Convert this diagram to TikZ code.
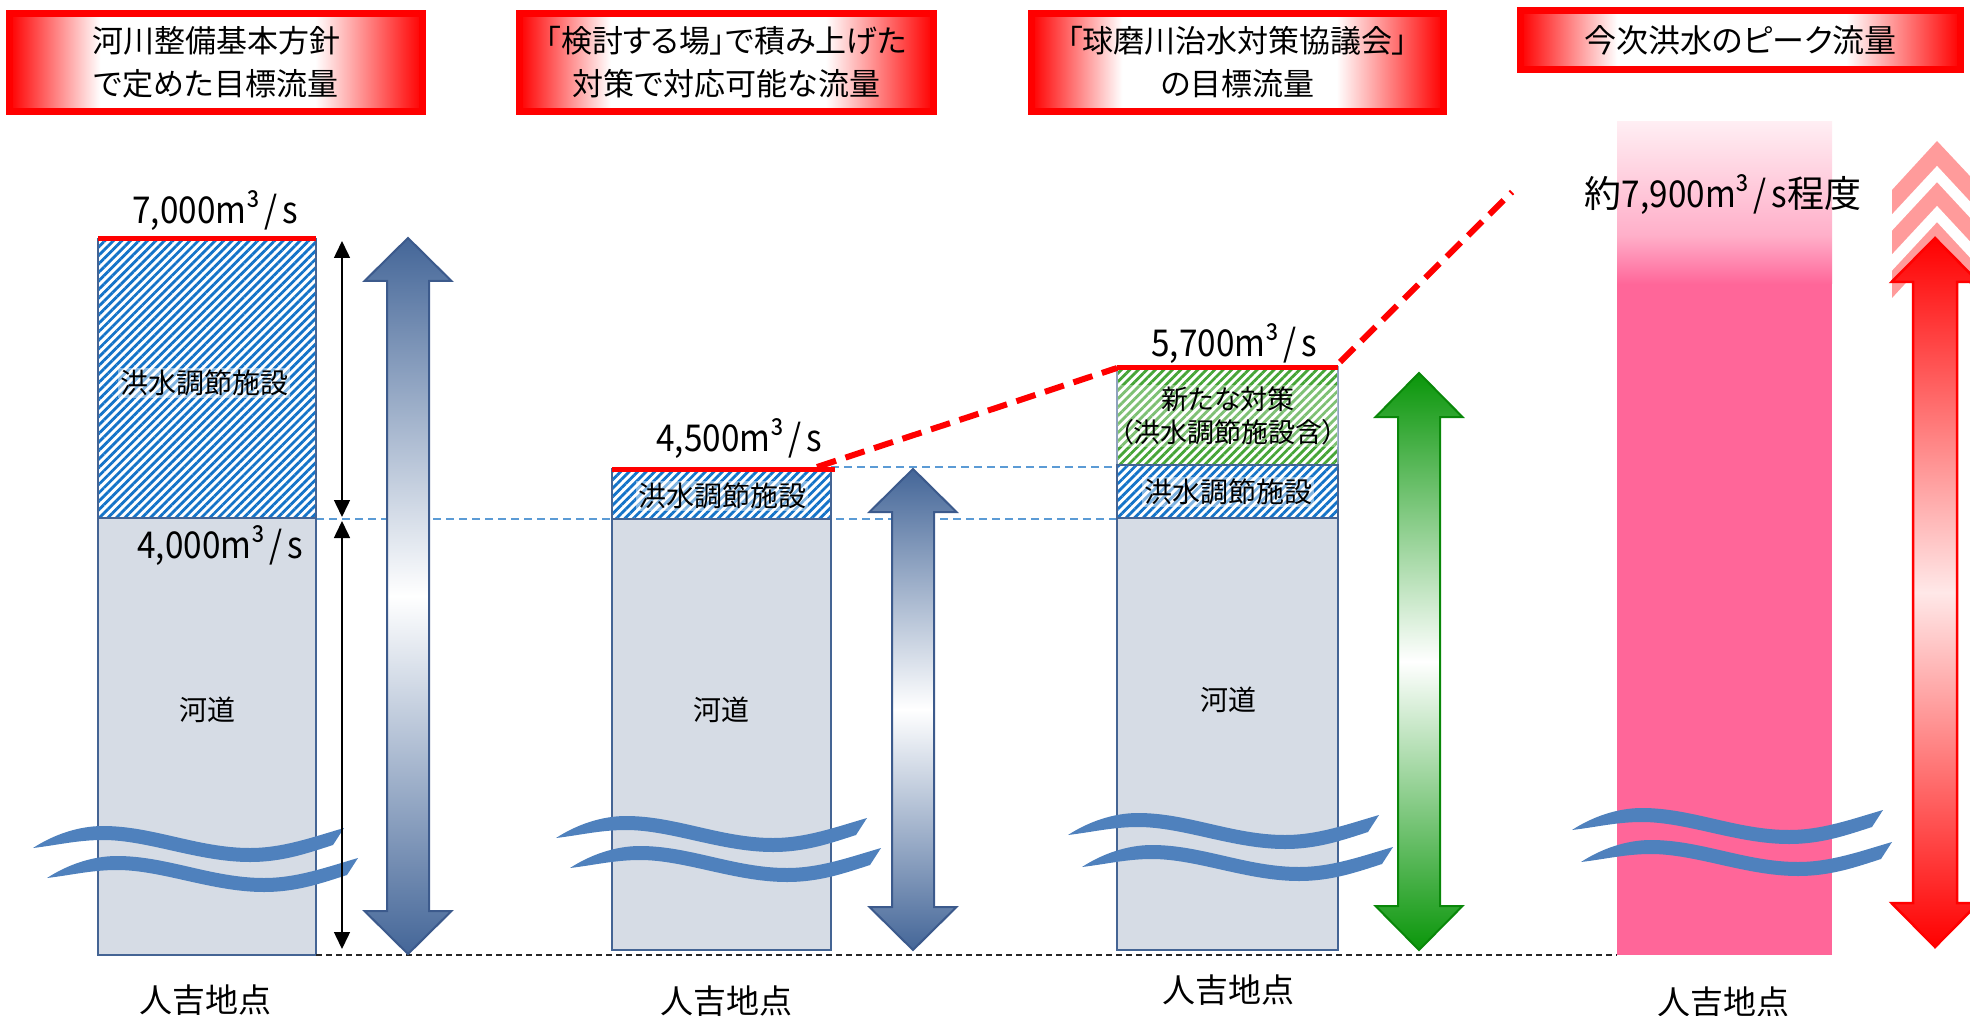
\documentclass[tikz,border=0pt]{standalone}
\usepackage{fontspec}
\setmainfont{Noto Sans CJK JP}[RawFeature=+palt]
\newfontfamily\numfont{Noto Sans CJK JP}[FakeStretch=0.9,RawFeature=+palt]
\usetikzlibrary{arrows.meta,patterns.meta}

\definecolor{barfill}{RGB}{214,220,229}
\definecolor{barline}{RGB}{68,100,148}
\definecolor{hatchblue}{RGB}{20,115,200}
\definecolor{hatchgreen}{RGB}{70,165,55}
\definecolor{arrblue}{RGB}{68,102,152}
\definecolor{arrblueline}{RGB}{60,90,140}
\definecolor{arrgreen}{RGB}{10,150,10}
\definecolor{pinkbar}{RGB}{255,102,153}
\definecolor{pinkhalf}{RGB}{255,175,201}
\definecolor{pinklight}{RGB}{255,238,243}
\definecolor{chev}{RGB}{255,155,155}
\definecolor{wavecol}{RGB}{79,129,189}
\definecolor{dashblue}{RGB}{91,155,213}
\definecolor{redmid}{RGB}{255,232,232}

\pgfdeclarehorizontalshading{rwr}{100bp}{color(0bp)=(red); color(25bp)=(red); color(36bp)=(white); color(62bp)=(white); color(75bp)=(red); color(100bp)=(red)}
\pgfdeclareverticalshading{pinkfade}{100bp}{color(0bp)=(pinkbar); color(25bp)=(pinkbar); color(40bp)=(pinkhalf); color(75bp)=(pinklight); color(100bp)=(pinklight)}

\newcommand\wavyband[2]{%
 \fill[wavecol, shift={(#1,#2)}] (0,0) .. controls (20,-13) and (45,-22) .. (70,-22)
   .. controls (120,-22) and (165,0) .. (217,0) .. controls (250,0) and (280,-11) .. (311,-20)
   -- (300,-3) .. controls (275,5) and (250,14) .. (217,14) .. controls (165,14) and (115,-8) .. (70,-8)
   .. controls (45,-8) and (25,-3) .. (0,0) -- cycle;}

% cx, ytop, ybot, head half width, shaft half width, head length, style
\newcommand\dblarrow[7]{%
 \path[#7] (#1,#2) -- ({#1+#4},{#2+#6}) -- ({#1+#5},{#2+#6}) -- ({#1+#5},{#3-#6}) -- ({#1+#4},{#3-#6})
   -- (#1,#3) -- ({#1-#4},{#3-#6}) -- ({#1-#5},{#3-#6}) -- ({#1-#5},{#2+#6}) -- ({#1-#4},{#2+#6}) -- cycle;}

\newcommand\unit{m³\kern4pt/\kern5pt s}

\tikzset{
 hdr/.style={shading=rwr, draw=red, line width=7pt, inner sep=0pt, align=center,
   font=\fontsize{31}{43}\selectfont},
 val/.style={font=\numfont\fontsize{37}{40}\selectfont, inner sep=0pt},
 lbl/.style={font=\fontsize{28}{33}\selectfont, inner sep=2pt},
 facl/.style={lbl, fill=white, fill opacity=0.45, text opacity=1},
 loc/.style={font=\fontsize{33}{36}\selectfont, inner sep=0pt},
 barout/.style={draw=barline, line width=2.5pt},
 bluehatch/.style={pattern={Lines[angle=45,distance=6pt,line width=2.8pt]}, pattern color=hatchblue},
 greenhatch/.style={pattern={Lines[angle=45,distance=6pt,line width=2.8pt]}, pattern color=hatchgreen},
 topline/.style={red, line width=5pt},
 reddash/.style={red, line width=6pt, dash pattern=on 20pt off 10pt},
 bluedash/.style={dashblue, line width=1.5pt, dash pattern=on 8pt off 5pt},
 blackdash/.style={black!85, line width=1.5pt, dash pattern=on 6pt off 4pt},
 thinarr/.style={line width=1.5pt, {Triangle[length=17pt,width=16pt]}-{Triangle[length=17pt,width=16pt]}},
 bluearr/.style={top color=arrblue, bottom color=arrblue, middle color=white, draw=arrblueline, line width=2pt},
 greenarr/.style={top color=arrgreen, bottom color=arrgreen, middle color=white, draw=arrgreen!90!black, line width=2pt},
 redarr/.style={top color=red, bottom color=red, middle color=redmid, draw=red, line width=2.5pt},
}

\begin{document}
\begin{tikzpicture}[x=1pt,y=-1pt]
\path[use as bounding box] (0,0) rectangle (1970,1016);
\clip (0,0) rectangle (1970,1016);

% header boxes
\node[hdr, minimum width=413pt, minimum height=98pt] (h1) at (216,62.5) {河川整備基本方針\\で定めた目標流量};
\node[hdr, minimum width=414pt, minimum height=98pt] (h2) at (726.5,62.5) {「検討する場」で積み上げた\\対策で対応可能な流量};
\node[hdr, minimum width=412pt, minimum height=98pt] (h3) at (1237.5,62.5) {「球磨川治水対策協議会」\\の目標流量};
\node[hdr, minimum width=440pt, minimum height=59pt, font=\fontsize{32}{36}\selectfont] (h4) at (1740.5,40) {今次洪水のピーク流量};

% guide dashed lines
\draw[bluedash] (316,519) -- (1117,519);
\draw[bluedash] (831,467) -- (1117,467);

% column 1
\fill[barfill] (98,518) rectangle (316,955);
\fill[white] (98,239) rectangle (316,518);
\fill[bluehatch] (98,239) rectangle (316,518);
\draw[barout] (98,239) rectangle (316,955);
\draw[barout] (98,518) -- (316,518);
\draw[topline] (98,239) -- (316,239);

% column 2
\fill[barfill] (612,519) rectangle (831,950);
\fill[white] (612,469) rectangle (831,519);
\fill[bluehatch] (612,469) rectangle (831,519);
\draw[barout] (612,469) rectangle (831,950);
\draw[barout] (612,519) -- (831,519);
\draw[topline] (612,469) -- (835,469);

% column 3
\fill[barfill] (1117,518) rectangle (1338,950);
\fill[white] (1117,367) rectangle (1338,518);
\fill[greenhatch] (1117,367) rectangle (1338,464);
\fill[bluehatch] (1117,466) rectangle (1338,518);
\draw[draw=barline!60, line width=2pt] (1117,367) rectangle (1338,465);
\draw[barout] (1117,465) rectangle (1338,950);
\draw[barout] (1117,518) -- (1338,518);
\draw[topline] (1117,367) -- (1338,367);

% column 4 pink band
\fill[pinkbar] (1617,283) rectangle (1832,955);
\shade[shading=pinkfade] (1617,122) rectangle (1832,284);

% base line
\draw[blackdash] (316,955) -- (1617,955);

% red dashed connectors
\coordinate (r1) at (817,467);
\coordinate (r2) at (1117,368);
\coordinate (r3) at (1340,362);
\coordinate (r4) at (1512,192);
\draw[reddash] (r1) -- (r2);
\draw[reddash] (r3) -- (r4);

% waves
\wavyband{33}{848}
\wavyband{47}{878}
\wavyband{556}{838}
\wavyband{570}{868}
\wavyband{1068}{835}
\wavyband{1082}{867}
\wavyband{1572}{830}
\wavyband{1581}{862}

% labels
\node[val] (v7000) at (215,211) {7,000\unit};
\node[val] (v4000) at (220,546) {4,000\unit};
\node[val] (v4500) at (739,439) {4,500\unit};
\node[val] (v5700) at (1234,344) {5,700\unit};
\node[val] (v7900) at (1723,195) {{\rmfamily 約}7,900\unit{\rmfamily 程度}};

\node[facl] (c1fac) at (204,383) {洪水調節施設};
\node[lbl] (c1riv) at (207,710) {河道};
\node[facl] (c2fac) at (722,496) {洪水調節施設};
\node[lbl] (c2riv) at (721,710) {河道};
\node[lbl, fill=white, fill opacity=0.3, text opacity=1, align=center, font=\fontsize{27}{33}\selectfont] (c3new) at (1228,416) {新たな対策\\（洪水調節施設含）};
\node[facl] (c3fac) at (1228,492) {洪水調節施設};
\node[lbl] (c3riv) at (1228,700) {河道};

\node[loc] (p1) at (205,1000) {人吉地点};
\node[loc] (p2) at (726,1001) {人吉地点};
\node[loc] (p3) at (1228,990) {人吉地点};
\node[loc] (p4) at (1723,1002) {人吉地点};

% thin dimension arrows
\coordinate (t1) at (342,241);
\coordinate (t2) at (342,517);
\coordinate (t3) at (342,521);
\coordinate (t4) at (342,949);
\draw[thinarr] (t1) -- (t2);
\draw[thinarr] (t3) -- (t4);

% big gradient arrows
\dblarrow{408}{238}{954}{43.5}{21}{43}{bluearr}
\dblarrow{913}{469}{950}{43.5}{21}{43}{bluearr}
\dblarrow{1419}{373}{950}{43.5}{21}{44}{greenarr}

% chevrons + red arrow
\fill[chev] (1937,141) -- (1983,190) -- (1983,298) -- (1937,249) -- (1892,298) -- (1892,190) -- cycle;
\draw[white, line width=11pt] (1885,230) -- (1937,174) -- (1989,230);
\draw[white, line width=11pt] (1885,270) -- (1937,214) -- (1989,270);
\dblarrow{1935}{238}{947}{43.5}{22}{44}{redarr}
\end{tikzpicture}
\end{document}
